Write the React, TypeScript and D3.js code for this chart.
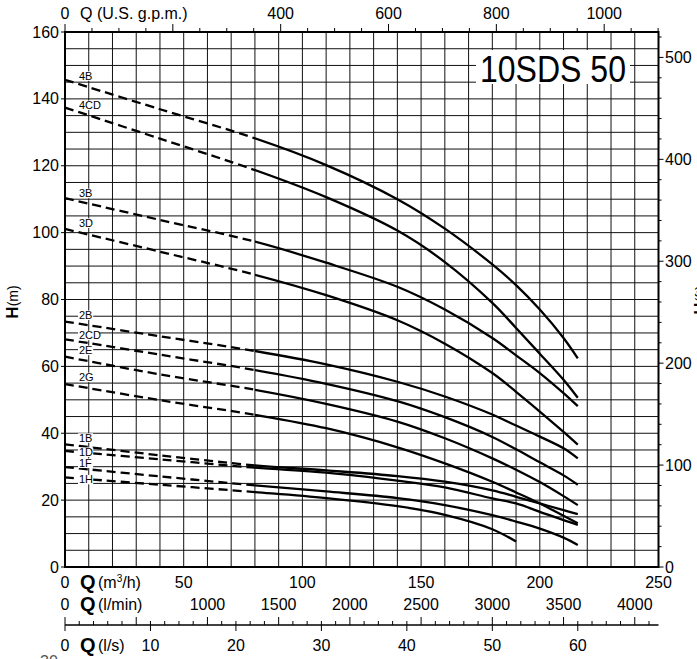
import React from 'react';
import * as d3 from 'd3';

// ---- data ----
const curveNames = ['4B', '4CD', '3B', '3D', '2B', '2CD', '2E', '2G', '1B', '1D', '1F', '1H'];
const flowStd = [0, 40, 80, 110, 140, 160, 180, 190, 200, 210, 216];
const flow1H = [0, 40, 80, 110, 140, 160, 180, 190];
const head4B = [145.7, 136.9, 128.2, 120.2, 110, 101.2, 90.5, 84.3, 77, 68.5, 62.4];
const head4CD = [137.4, 128.1, 118.7, 110.6, 100.6, 91.2, 79, 71.5, 63.8, 56, 50.6];
const head3B = [110.3, 103.8, 97.3, 91, 83.8, 77, 68.5, 63.3, 58, 52, 48.1];
const head3D = [101.1, 94.3, 87.4, 81.3, 73.8, 66.8, 58, 52.4, 46.5, 40.4, 36.6];
const head2B = [73.4, 69, 64.6, 60.6, 55.4, 51, 45.6, 42.3, 39, 35.5, 32.5];
const head2CD = [68.1, 63.5, 58.9, 54.8, 49.6, 44.8, 38.9, 35.2, 31.3, 27.4, 24.6];
const head2E = [62.9, 57.6, 53, 48.8, 43.5, 38.5, 32.5, 29.1, 25.4, 21.2, 18.5];
const head2G = [54.7, 49.9, 45.5, 41.5, 35.8, 31, 25.5, 22.3, 19, 15.3, 13.1];
const head1B = [36.7, 33.4, 30.4, 28.9, 27.2, 25.5, 22.9, 21, 19, 17, 15.8];
const head1D = [34.7, 32.2, 29.7, 28.2, 25.8, 23.8, 20.5, 19, 16.5, 14, 12.6];
const head1F = [29.9, 27.1, 24.4, 22.6, 20.6, 18.5, 15.5, 13.6, 11.5, 8.8, 6.6];
const head1H = [26.8, 24.6, 22.4, 20.6, 18.2, 15.6, 11.3, 7.6];
const dashedUntil = 80;

const leftTicks = [0, 20, 40, 60, 80, 100, 120, 140, 160];
const ftLabels = [0, 100, 200, 300, 400, 500];
const gpmLabels = [400, 600, 800, 1000];
const m3hLabels = [50, 100, 150, 200, 250];
const lminLabels = [1000, 1500, 2000, 2500, 3000, 3500, 4000];
const lsLabels = [10, 20, 30, 40, 50, 60];
const titleText = '10SDS 50';

// styling (not data)
const labelDy = [0, 1.5, -1, -2, -2.5, 0, -2.5, -3, -2.5, 5, 0, 6];

const W = 697;
const H = 659;
const FONT = 'Liberation Sans, Arial, Helvetica, sans-serif';

export default function App() {
  const x = d3.scaleLinear().domain([0, 250]).range([65, 658.5]);
  const y = d3.scaleLinear().domain([0, 160]).range([567, 32]);
  const M_PER_FT = 0.3048;
  const GPM_PER_M3H = 4.40287;

  const heads = [head4B, head4CD, head3B, head3D, head2B, head2CD, head2E, head2G, head1B, head1D, head1F, head1H];
  const curves = curveNames.map((name, i) => {
    const flows = name === '1H' ? flow1H : flowStd;
    return { name, pts: flows.map((q, j) => [q, heads[i][j]] as [number, number]) };
  });

  const line = d3
    .line<[number, number]>()
    .x((d) => x(d[0]))
    .y((d) => y(d[1]))
    .curve(d3.curveCatmullRom.alpha(0.5));

  const vGrid = d3.range(10, 250, 10);
  const hGrid = d3.range(5, 160, 5);
  const ftTicks = d3.range(0, 521, 20);
  const gpmTicks = d3.range(0, 1101, 50);
  const lminTicks = d3.range(0, 4101, 100);
  const lsTicks = d3.range(0, 61, 10);

  const xd = x(dashedUntil);

  return (
    <svg
      width={W}
      height={H}
      style={{ position: 'absolute', left: 0, top: 0, background: '#fff' }}
      fontFamily={FONT}
    >
      <defs>
        <clipPath id="clipDash">
          <rect x={0} y={0} width={xd} height={H} />
        </clipPath>
        <clipPath id="clipSolid">
          <rect x={xd} y={0} width={W - xd} height={H} />
        </clipPath>
      </defs>
      <rect x={0} y={0} width={W} height={H} fill="#fff" />

      {/* grid */}
      {vGrid.map((v) => (
        <line key={'v' + v} x1={x(v)} x2={x(v)} y1={y(160)} y2={y(0)} stroke="#111" strokeWidth={1} />
      ))}
      {hGrid.map((v) => (
        <line key={'h' + v} x1={x(0)} x2={x(250)} y1={y(v)} y2={y(v)} stroke="#111" strokeWidth={1} />
      ))}

      {/* title box */}
      <rect x={476} y={50} width={154} height={34} fill="#fff" />
      <text x={480} y={82} fontSize={37} textLength={146} lengthAdjust="spacingAndGlyphs" fill="#000">
        {titleText}
      </text>

      {/* curves */}
      {curves.map((c) => (
        <g key={c.name}>
          <path d={line(c.pts) || ''} fill="none" stroke="#000" strokeWidth={2.3} strokeDasharray="9,5" clipPath="url(#clipDash)" />
          <path d={line(c.pts) || ''} fill="none" stroke="#000" strokeWidth={2.3} clipPath="url(#clipSolid)" />
        </g>
      ))}

      {/* curve labels */}
      {curves.map((c, i) => {
        const by = y(c.pts[0][1]) + labelDy[i];
        const w = c.name.length * 6.6 + 2;
        return (
          <g key={'l' + c.name}>
            <rect x={78} y={by - 8.5} width={w} height={9.5} fill="#fff" />
            <text x={79} y={by} fontSize={11} fill="#000">
              {c.name}
            </text>
          </g>
        );
      })}

      {/* frame */}
      <rect x={x(0)} y={y(160)} width={x(250) - x(0)} height={y(0) - y(160)} fill="none" stroke="#000" strokeWidth={2} />

      {/* left axis */}
      {leftTicks.map((v) => (
        <g key={'lt' + v}>
          <line x1={x(0) - 4} x2={x(0)} y1={y(v)} y2={y(v)} stroke="#000" strokeWidth={1} />
          <text x={59} y={y(v)} dy="0.35em" fontSize={16} textAnchor="end">
            {v}
          </text>
        </g>
      ))}
      <text transform="translate(18,302) rotate(-90)" textAnchor="middle">
        <tspan fontSize={17} fontWeight="bold">H</tspan>
        <tspan fontSize={14}>(m)</tspan>
      </text>

      {/* right axis (ft) */}
      {ftTicks.map((v) => (
        <line
          key={'ft' + v}
          x1={x(250)}
          x2={x(250) + (v % 100 === 0 ? 5 : 3)}
          y1={y(v * M_PER_FT)}
          y2={y(v * M_PER_FT)}
          stroke="#000"
          strokeWidth={1}
        />
      ))}
      {ftLabels.map((v) => (
        <text key={'fl' + v} x={665} y={y(v * M_PER_FT)} dy="0.35em" fontSize={16}>
          {v}
        </text>
      ))}
      <text transform="translate(706,300) rotate(-90)" textAnchor="middle" fontSize={14}>
        <tspan fontWeight="bold" fontSize={17}>H</tspan>
        <tspan>(ft)</tspan>
      </text>

      {/* top axis (gpm) */}
      {gpmTicks.map((v) => (
        <line
          key={'g' + v}
          x1={x(v / GPM_PER_M3H)}
          x2={x(v / GPM_PER_M3H)}
          y1={y(160)}
          y2={y(160) - (v % 200 === 0 ? 8 : 4)}
          stroke="#000"
          strokeWidth={1}
        />
      ))}
      <text x={x(0)} y={19} fontSize={16} textAnchor="middle">0</text>
      <text x={80} y={19} fontSize={16}>Q (U.S. g.p.m.)</text>
      {gpmLabels.map((v) => (
        <text key={'gl' + v} x={x(v / GPM_PER_M3H)} y={19} fontSize={16} textAnchor="middle">
          {v}
        </text>
      ))}

      {/* bottom axis row 1 (m3/h) */}
      <text x={x(0)} y={588} fontSize={16} textAnchor="middle">0</text>
      <text x={80} y={589} fontSize={20} fontWeight="bold">Q</text>
      <text x={98} y={588} fontSize={16}>
        (m<tspan fontSize={10} dy={-6}>3</tspan>
        <tspan dy={6}>/h)</tspan>
      </text>
      {m3hLabels.map((v) => (
        <text key={'m' + v} x={x(v)} y={588} fontSize={16} textAnchor="middle">
          {v}
        </text>
      ))}

      {/* bottom axis row 2 (l/min) */}
      <text x={x(0)} y={610} fontSize={16} textAnchor="middle">0</text>
      <text x={80} y={611} fontSize={20} fontWeight="bold">Q</text>
      <text x={98} y={610} fontSize={16}>(l/min)</text>
      {lminLabels.map((v) => (
        <text key={'lm' + v} x={x(v * 0.06)} y={610} fontSize={16} textAnchor="middle">
          {v}
        </text>
      ))}

      {/* bottom axis row 3 (l/s) */}
      <line x1={x(0)} x2={x(250)} y1={625} y2={625} stroke="#000" strokeWidth={1.5} />
      {lminTicks.map((v) => (
        <line
          key={'lmt' + v}
          x1={x(v * 0.06)}
          x2={x(v * 0.06)}
          y1={625}
          y2={625 - (v % 500 === 0 ? 8 : 4)}
          stroke="#000"
          strokeWidth={1}
        />
      ))}
      {lsTicks.map((v) => (
        <line key={'lst' + v} x1={x(v * 3.6)} x2={x(v * 3.6)} y1={625} y2={631} stroke="#000" strokeWidth={1} />
      ))}
      <text x={x(0)} y={651} fontSize={16} textAnchor="middle">0</text>
      <text x={80} y={652} fontSize={20} fontWeight="bold">Q</text>
      <text x={98} y={651} fontSize={16}>(l/s)</text>
      {lsLabels.map((v) => (
        <text key={'ls' + v} x={x(v * 3.6)} y={651} fontSize={16} textAnchor="middle">
          {v}
        </text>
      ))}
      <text x={40} y={667} fontSize={16} fill="#555">30</text>
    </svg>
  );
}
